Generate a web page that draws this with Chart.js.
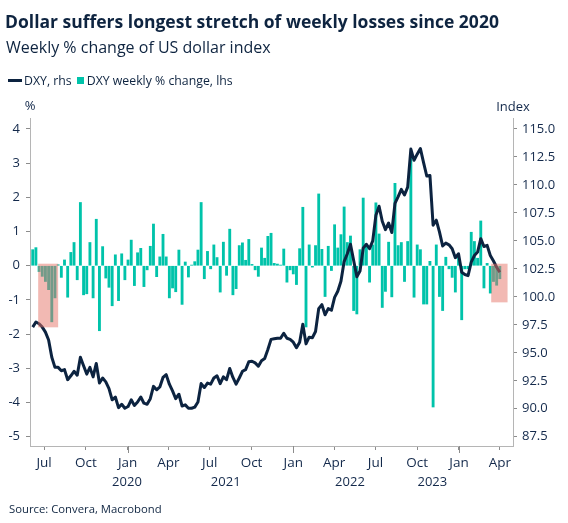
<!DOCTYPE html>
<html>
<head>
<meta charset="utf-8">
<script src="https://cdn.jsdelivr.net/npm/chart.js@4"></script>
<style>
  body { margin: 0; background: #fff; }
  #wrap { position: relative; width: 568px; height: 523px; font-family: "Open Sans", sans-serif; color: #0e2440; }
  #wrap div { position: absolute; white-space: nowrap; z-index: 2; }
  .title { left: 5px; top: 9px; font-size: 17.5px; font-weight: 700; }
  .sub { left: 6px; top: 36px; font-size: 16px; }
  .legend { left: 8px; top: 72px; font-size: 12.3px; display: flex; align-items: center; }
  .legend .ln { display: inline-block; width: 14px; height: 3px; background: #0c2340; margin-right: 2px; }
  .legend .sq { display: inline-block; width: 7px; height: 7px; background: #00c3aa; margin: 0 3px 0 5px; }
  .source { left: 9px; top: 501px; font-size: 11.3px; }
  canvas { position: absolute; left: 0; top: 0; }
</style>
</head>
<body>
<div id="wrap">
  <div class="title">Dollar suffers longest stretch of weekly losses since 2020</div>
  <div class="sub">Weekly % change of US dollar index</div>
  <div class="legend"><span class="ln"></span>DXY, rhs<span class="sq"></span>DXY weekly % change, lhs</div>
  <canvas id="chart" width="568" height="523"></canvas>
  <div class="source">Source: Convera, Macrobond</div>
</div>
<script>
// semanas (início da semana), uma por ponto
const firstWeek = '2020-06-06';

// variação semanal do DXY em % (eixo esquerdo)
const weeklyChange = [
  0.47, 0.53, -0.17, -0.31, -0.46, -0.70, -1.64, -0.94, 0.03, -0.34,
  0.17, -0.92, 0.39, 0.68, -0.41, 1.85, -0.85, -0.82, 0.68, -0.94,
  1.36, -1.90, 0.56, -0.36, -0.63, -1.17, 0.32, -1.02, 0.35, -0.41,
  0.17, 0.75, -0.58, 0.38, 0.51, -0.61, -0.12, 0.57, 1.22, -0.32,
  0.26, 0.92, 0.26, -0.94, -0.65, -0.76, 0.46, -1.13, 0.11, -0.33,
  0.02, 0.12, 0.46, 1.85, -0.38, 0.42, -0.09, 0.61, 0.24, -0.77,
  0.69, -0.28, 1.07, -0.85, -0.67, 0.59, 0.67, 0.16, 0.77, 0.04,
  -0.12, -0.31, 0.52, 0.22, 0.86, 0.95, 0.07, 0.05, 0.02, 0.49,
  -0.48, -0.12, -0.24, -0.55, 0.50, 1.71, -1.79, 0.61, -0.04, 0.59,
  2.10, 0.48, -0.90, 0.57, -0.14, 1.20, 0.52, 0.91, 1.72, 0.68,
  0.87, -1.31, -1.41, 0.47, 1.98, 0.61, -0.48, 0.61, 1.84, 0.93,
  -1.22, -0.75, 0.69, -0.91, 2.41, 0.59, 0.68, -0.46, 0.71, 3.15,
  -0.92, 0.61, 0.47, -1.12, -1.12, 0.13, -4.13, 0.61, -0.90, -1.31,
  0.25, -0.09, -0.34, -0.77, 0.30, -1.58, -0.09, -0.09, 0.98, 0.71,
  0.22, 1.31, -0.65, 0.07, -0.80, -0.46, -0.57, -0.38
];

// nível do DXY (eixo direito)
const dxyLevel = [
  97.3, 97.75, 97.6, 97.3, 96.85, 96.15, 94.6, 93.7, 93.7, 93.4,
  93.5, 92.6, 92.95, 93.35, 93.0, 94.6, 93.85, 93.1, 93.7, 92.85,
  94.05, 92.3, 92.75, 92.4, 91.8, 90.8, 91.05, 90.1, 90.4, 90.05,
  90.2, 90.8, 90.3, 90.6, 91.05, 90.5, 90.4, 90.9, 92.0, 91.7,
  91.95, 92.8, 93.05, 92.2, 91.6, 90.9, 91.3, 90.25, 90.35, 90.05,
  90.05, 90.15, 90.6, 92.25, 91.9, 92.3, 92.2, 92.75, 92.95, 92.25,
  92.85, 92.6, 93.6, 92.8, 92.2, 92.75, 93.35, 93.5, 94.2, 94.25,
  94.1, 93.8, 94.3, 94.5, 95.3, 96.2, 96.25, 96.3, 96.3, 96.75,
  96.3, 96.2, 95.95, 95.45, 95.95, 97.55, 95.8, 96.4, 96.35, 96.9,
  98.95, 99.3, 98.4, 98.95, 98.8, 99.95, 100.5, 101.4, 103.15, 103.85,
  104.7, 103.25, 101.8, 102.3, 104.35, 104.7, 104.3, 105.0, 107.3, 108.1,
  106.75, 106.0, 106.6, 105.75, 108.35, 108.95, 109.6, 109.1, 109.8, 113.2,
  112.2, 112.75, 113.25, 112.0, 110.8, 110.85, 106.4, 106.85, 105.8, 104.55,
  104.8, 104.65, 104.3, 103.5, 103.85, 102.2, 102.0, 101.9, 103.1, 103.7,
  104.0, 105.2, 104.5, 104.6, 103.7, 103.2, 102.65, 102.2
];

// marcas do eixo x
const xTickDates = ['2020-07-01', '2020-10-01', '2021-01-01', '2021-04-01', '2021-07-01', '2021-10-01',
  '2022-01-01', '2022-04-01', '2022-07-01', '2022-10-01', '2023-01-01', '2023-04-01'];
const monthNames = { 0: 'Jan', 3: 'Apr', 6: 'Jul', 9: 'Oct' };
const yearLabels = [2020, 2021, 2022, 2023];
const xRange = ['2020-05-31', '2023-04-30'];

const leftTicks = [-5, -4, -3, -2, -1, 0, 1, 2, 3, 4];
const rightTicks = [87.5, 90, 92.5, 95, 97.5, 100, 102.5, 105, 107.5, 110, 112.5, 115];

// sequências de perdas destacadas: [início, fim, topo, base] (eixo esquerdo)
const highlights = [
  ['2020-06-18', '2020-08-01', 0.06, -1.80],
  ['2023-03-13', '2023-04-18', 0.06, -1.07]
];

const DAY = 864e5;
const toDay = s => Date.parse(s) / DAY;
const week0 = toDay(firstWeek);
const weekX = weeklyChange.map((v, i) => week0 + 7 * i);

const navy = '#0c2340';
const teal = '#00c3aa';
const textCol = '#13294b';
const axisCol = '#b5b5b5';

const highlightPlugin = {
  id: 'highlight',
  afterDatasetsDraw(chart) {
    const { ctx, scales } = chart;
    ctx.save();
    ctx.fillStyle = 'rgba(229, 115, 103, 0.5)';
    highlights.forEach(h => {
      const x1 = scales.x.getPixelForValue(toDay(h[0]));
      const x2 = scales.x.getPixelForValue(toDay(h[1]));
      const y1 = scales.y.getPixelForValue(h[2]);
      const y2 = scales.y.getPixelForValue(h[3]);
      ctx.fillRect(x1, y1, x2 - x1, y2 - y1);
    });
    ctx.restore();
  },
  afterDraw(chart) {
    const { ctx, scales, chartArea } = chart;
    ctx.save();
    ctx.fillStyle = textCol;
    ctx.font = '13px "Open Sans"';
    ctx.textAlign = 'center';
    ctx.textBaseline = 'middle';
    ctx.fillText('%', scales.y.right, chartArea.top - 12);
    ctx.fillText('Index', scales.y1.left, chartArea.top - 11);
    // marcas de janeiro mais longas
    ctx.strokeStyle = '#8c8c8c';
    ctx.lineWidth = 1;
    xTickDates.filter(d => d.slice(5, 7) === '01').forEach(d => {
      const px = Math.round(scales.x.getPixelForValue(toDay(d))) + 0.5;
      ctx.beginPath();
      ctx.moveTo(px, chartArea.bottom);
      ctx.lineTo(px, chartArea.bottom + 7);
      ctx.stroke();
    });
    ctx.restore();
  }
};

new Chart(document.getElementById('chart'), {
  type: 'bar',
  data: {
    datasets: [
      {
        type: 'line',
        label: 'DXY, rhs',
        data: dxyLevel.map((v, i) => ({ x: weekX[i], y: v })),
        yAxisID: 'y1',
        borderColor: navy,
        borderWidth: 3,
        pointRadius: 0,
        tension: 0,
        borderJoinStyle: 'round',
        order: 0
      },
      {
        label: 'DXY weekly % change, lhs',
        data: weeklyChange.map((v, i) => ({ x: weekX[i], y: v })),
        yAxisID: 'y',
        backgroundColor: teal,
        barThickness: 2.2,
        order: 1
      }
    ]
  },
  options: {
    responsive: false,
    animation: false,
    layout: { padding: { top: 118, left: 0, right: 0, bottom: 33 } },
    plugins: { legend: { display: false }, tooltip: { enabled: false } },
    scales: {
      x: {
        type: 'linear',
        offset: false,
        min: toDay(xRange[0]),
        max: toDay(xRange[1]),
        weight: 0,
        grid: { display: true, drawOnChartArea: false, offset: false, tickLength: 4, color: '#8c8c8c' },
        border: { color: axisCol },
        afterBuildTicks: s => { s.ticks = xTickDates.map(d => ({ value: toDay(d) })); },
        afterFit: s => { s.height = 24; },
        ticks: {
          autoSkip: false, maxRotation: 0, padding: 5, color: textCol,
          font: { family: 'Open Sans', size: 13.5 },
          callback: v => monthNames[new Date(v * DAY).getUTCMonth()]
        }
      },
      x2: {
        type: 'linear',
        position: 'bottom',
        min: toDay(xRange[0]),
        max: toDay(xRange[1]),
        weight: 1,
        grid: { display: false, drawTicks: false },
        border: { display: false },
        afterBuildTicks: s => {
          s.ticks = yearLabels.map(yr => {
            const a = Math.max(toDay(yr + '-01-01'), s.min);
            const b = Math.min(toDay((yr + 1) + '-01-01'), s.max);
            return { value: (a + b) / 2 };
          });
        },
        afterFit: s => { s.height = 20; },
        ticks: {
          autoSkip: false, maxRotation: 0, padding: 4, color: textCol,
          font: { family: 'Open Sans', size: 13 },
          callback: v => String(new Date(v * DAY).getUTCFullYear())
        }
      },
      y: {
        position: 'left',
        min: -5.27,
        max: 4.32,
        grid: { display: true, drawOnChartArea: false, tickLength: 4, color: '#8c8c8c' },
        border: { color: axisCol },
        afterBuildTicks: s => { s.ticks = leftTicks.map(v => ({ value: v })); },
        afterFit: s => { s.width = 30; },
        ticks: { padding: 6, color: textCol, font: { family: 'Open Sans', size: 13 } }
      },
      y1: {
        position: 'right',
        min: 86.675,
        max: 115.98,
        grid: { display: true, drawOnChartArea: false, tickLength: 4, color: '#8c8c8c' },
        border: { color: axisCol },
        afterBuildTicks: s => { s.ticks = rightTicks.map(v => ({ value: v })); },
        afterFit: s => { s.width = 55; },
        ticks: { padding: 5, color: textCol, font: { family: 'Open Sans', size: 13 }, callback: v => v.toFixed(1) }
      }
    }
  },
  plugins: [highlightPlugin]
});
</script>
</body>
</html>
